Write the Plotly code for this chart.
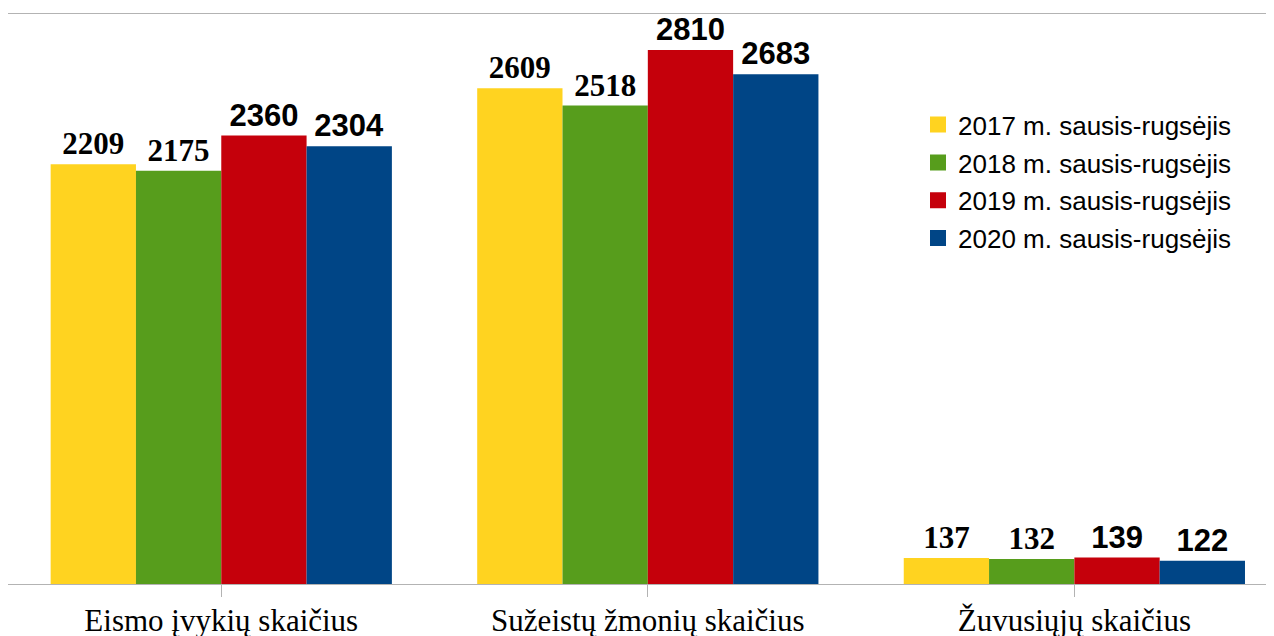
import plotly.graph_objects as go

categories = ["Eismo įvykių skaičius", "Sužeistų žmonių skaičius", "Žuvusiųjų skaičius"]
series_names = ["2017 m. sausis-rugsėjis", "2018 m. sausis-rugsėjis",
                "2019 m. sausis-rugsėjis", "2020 m. sausis-rugsėjis"]
values_2017 = [2209, 2609, 137]
values_2018 = [2175, 2518, 132]
values_2019 = [2360, 2810, 139]
values_2020 = [2304, 2683, 122]

series_values = [values_2017, values_2018, values_2019, values_2020]
colors = ["#FFD320", "#579D1C", "#C5000B", "#004586"]
label_fonts = ["Liberation Serif", "Liberation Serif", "Liberation Sans", "Liberation Sans"]

fig = go.Figure()
x_idx = list(range(len(categories)))
for name, vals, col, lf in zip(series_names, series_values, colors, label_fonts):
    fig.add_trace(go.Bar(
        x=x_idx, y=vals, name=name,
        marker=dict(color=col, line=dict(width=0)),
        text=[str(v) for v in vals], textposition="outside",
        textfont=dict(family=lf, size=31, color="black", weight="bold"),
        constraintext="none",
        cliponaxis=False, showlegend=False,
    ))
# legend proxies
for i, (name, col) in enumerate(zip(series_names, colors)):
    fig.add_trace(go.Scatter(
        x=[None], y=[None], mode="markers", name=name,
        marker=dict(symbol="square", size=16, color=col, line=dict(width=0)),
        legendgroup=f"g{i}", showlegend=True,
    ))

fig.update_layout(
    width=1266, height=628,
    margin=dict(l=0, r=0, t=6, b=52),
    paper_bgcolor="white", plot_bgcolor="white",
    barmode="group", bargap=0.2, bargroupgap=0,
    showlegend=True,
    legend=dict(x=0.7188, y=0.847, xanchor="left", yanchor="top",
                font=dict(family="Liberation Sans", size=26, color="black"),
                bgcolor="rgba(0,0,0,0)", tracegroupgap=1, itemsizing="trace"),
    xaxis=dict(
        range=[-0.5, 2.468], tickmode="array", tickvals=x_idx, ticktext=categories,
        tickson="boundaries", ticks="outside", ticklen=12, tickcolor="#b3b3b3",
        showline=True, linecolor="#b3b3b3", linewidth=1, mirror=True,
        showgrid=False, zeroline=False, automargin=False, ticklabelstandoff=-3,
        tickfont=dict(family="Liberation Serif", size=31, color="black"),
    ),
    yaxis=dict(
        range=[0, 3000], showticklabels=False, showgrid=False, zeroline=False,
        showline=True, linecolor="#b3b3b3", linewidth=1, ticks="", automargin=False,
    ),
)

fig.write_html("out.html")
